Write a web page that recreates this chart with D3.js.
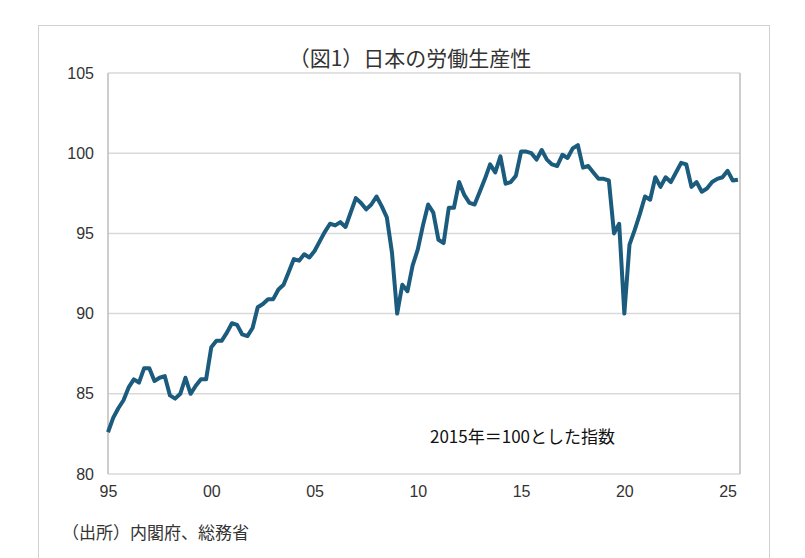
<!DOCTYPE html>
<meta charset="utf-8">
<style>
  body { margin: 0; background: #fff; }
  svg { font-family: "Noto Sans CJK JP", sans-serif; }
</style>
<body>
<script src="https://cdn.jsdelivr.net/npm/d3@7"></script>
<script>
// quarterly index, 2015 = 100
const startYear = 1995;
const values = [
  82.6, 83.5, 84.1, 84.6,   85.4, 85.9, 85.7, 86.6,
  86.6, 85.8, 86.0, 86.1,   84.9, 84.7, 85.0, 86.0,
  85.0, 85.5, 85.9, 85.9,   87.9, 88.3, 88.3, 88.8,
  89.4, 89.3, 88.7, 88.6,   89.1, 90.4, 90.6, 90.9,
  90.9, 91.5, 91.8, 92.6,   93.4, 93.3, 93.7, 93.5,
  93.9, 94.5, 95.1, 95.6,   95.5, 95.7, 95.4, 96.3,
  97.2, 96.9, 96.5, 96.8,   97.3, 96.7, 96.0, 93.8,
  90.0, 91.8, 91.4, 93.0,   94.0, 95.5, 96.8, 96.3,
  94.6, 94.4, 96.6, 96.6,   98.2, 97.4, 96.9, 96.8,
  97.6, 98.4, 99.3, 98.8,   99.8, 98.1, 98.2, 98.6,
  100.1, 100.1, 100.0, 99.6, 100.2, 99.6, 99.3, 99.2,
  99.9, 99.7, 100.3, 100.5, 99.1, 99.2, 98.8, 98.4,
  98.4, 98.3, 95.0, 95.6,   90.0, 94.3, 95.2, 96.2,
  97.3, 97.1, 98.5, 97.9,   98.5, 98.2, 98.8, 99.4,
  99.3, 97.9, 98.2, 97.6,   97.8, 98.2, 98.4, 98.5,
  98.9, 98.3, 98.35
];
const yTicks = [80, 85, 90, 95, 100, 105];
const xTicks = [1995, 2000, 2005, 2010, 2015, 2020, 2025];
const xTickLabels = ["95", "00", "05", "10", "15", "20", "25"];

const svg = d3.select("body").append("svg").attr("width", 805).attr("height", 558);

// outer frame
svg.append("rect").attr("x", 38.5).attr("y", 25.5).attr("width", 731).attr("height", 540)
  .attr("fill", "none").attr("stroke", "#d0d0d0");

const x = d3.scaleLinear().domain([1995, 2025.6]).range([108, 740]);
const y = d3.scaleLinear().domain([80, 105]).range([474, 73]);

// grid
svg.append("g").selectAll("line").data(yTicks).enter().append("line")
  .attr("x1", 108).attr("x2", 740)
  .attr("y1", d => y(d)).attr("y2", d => y(d))
  .attr("stroke", "#d9d9d9").attr("stroke-width", 1.5);

// side lines
[108, 740].forEach(px => {
  svg.append("line").attr("x1", px).attr("x2", px).attr("y1", 73).attr("y2", 474)
    .attr("stroke", "#bdbdbd").attr("stroke-width", 1.5);
});

const yAxis = svg.append("g").attr("transform", "translate(108,0)")
  .call(d3.axisLeft(y).tickValues(yTicks).tickSize(0).tickPadding(14));
yAxis.select(".domain").remove();
yAxis.selectAll("text").attr("font-size", 16).attr("fill", "#333");

const xAxis = svg.append("g").attr("transform", "translate(0,474)")
  .call(d3.axisBottom(x).tickValues(xTicks).tickSize(0).tickPadding(12)
    .tickFormat((d, i) => xTickLabels[i]));
xAxis.select(".domain").remove();
xAxis.selectAll("text").attr("font-size", 16).attr("fill", "#333");

// line
const line = d3.line()
  .x((d, i) => x(startYear + i / 4))
  .y(d => y(d));
svg.append("path").datum(values).attr("d", line)
  .attr("fill", "none").attr("stroke", "#1b5b7e").attr("stroke-width", 4)
  .attr("stroke-linejoin", "round");

svg.append("text").attr("x", 410).attr("y", 66).attr("text-anchor", "middle")
  .attr("font-size", 21).attr("fill", "#333").text("（図1）日本の労働生産性");

svg.append("text").attr("x", 430).attr("y", 443)
  .attr("font-size", 17).attr("fill", "#111").text("2015年＝100とした指数");

svg.append("text").attr("x", 62).attr("y", 539)
  .attr("font-size", 17).attr("fill", "#333").text("（出所）内閣府、総務省");
</script>
</body>
